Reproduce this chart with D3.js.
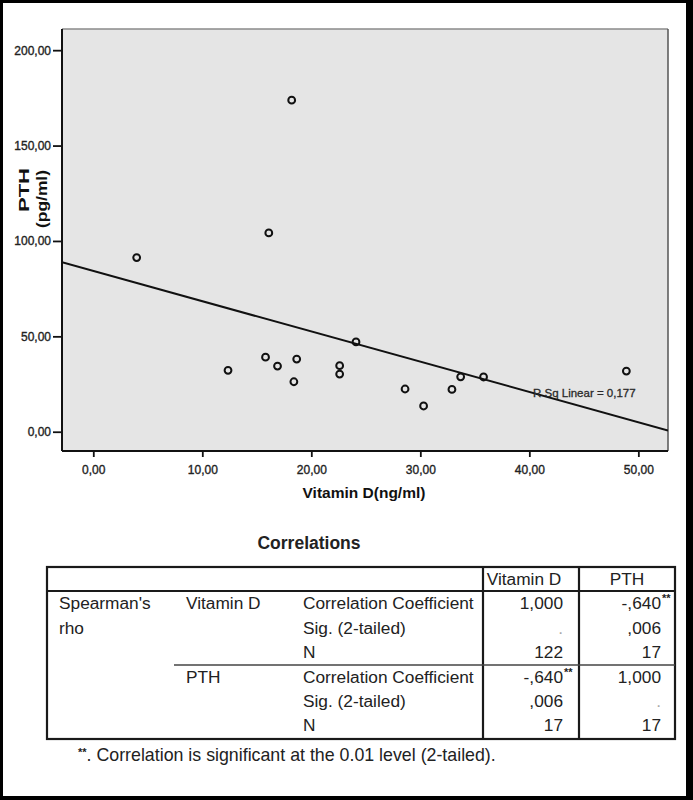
<!DOCTYPE html>
<html>
<head>
<meta charset="utf-8">
<script src="https://cdn.jsdelivr.net/npm/d3@7"></script>
<style>
  html, body { margin: 0; padding: 0; background: #fff; }
  svg { display: block; }
  text { font-family: "Liberation Sans", Arial, sans-serif; }
</style>
</head>
<body>
<svg id="chart" width="693" height="800"></svg>
<script>
// ---------- data ----------
const vitaminD = [3.98, 18.2, 16.1, 12.36, 15.8, 16.9, 18.66, 18.4, 22.6, 22.6, 24.1, 28.6, 30.3, 32.9, 33.7, 35.8, 48.9];
const pth      = [91.3, 173.8, 104.2, 32.2, 39.1, 34.4, 38.1, 26.2, 34.6, 30.2, 47.1, 22.4, 13.5, 22.2, 28.8, 28.7, 31.8];
const xTicks = [0, 10, 20, 30, 40, 50];
const yTicks = [0, 50, 100, 150, 200];
const xTitle = "Vitamin D(ng/ml)";
const yTitle = ["PTH", "(pg/ml)"];
const fitLabel = "R Sq Linear = 0,177";

const tableTitle = "Correlations";
const tableColumns = ["Vitamin D", "PTH"];
const tableMethod = ["Spearman's", "rho"];
const tableGroups = ["Vitamin D", "PTH"];
const tableStats = ["Correlation Coefficient", "Sig. (2-tailed)", "N"];
const colVitaminD = ["1,000", ".", "122", "-,640**", ",006", "17"];
const colPTH      = ["-,640**", ",006", "17", "1,000", ".", "17"];
const footnote = ["**", ". Correlation is significant at the 0.01 level (2-tailed)."];

// ---------- frame ----------
const svg = d3.select("#chart");
svg.append("rect").attr("x", 0).attr("y", 0).attr("width", 693).attr("height", 800).attr("fill", "#000");
svg.append("rect").attr("x", 3).attr("y", 3).attr("width", 683).attr("height", 793).attr("fill", "#fff");

// ---------- scatter ----------
const P = { left: 62, top: 29, right: 668, bottom: 451 };
const x = d3.scaleLinear().domain([-2.87, 52.72]).range([P.left, P.right]);
const y = d3.scaleLinear().domain([-10.1, 211.1]).range([P.bottom, P.top]);
const fmt = v => d3.format(".2f")(v).replace(".", ",");

svg.append("rect").attr("x", P.left).attr("y", P.top)
  .attr("width", P.right - P.left).attr("height", P.bottom - P.top)
  .attr("fill", "#e5e5e5");
svg.append("line").attr("x1", P.left).attr("x2", P.right).attr("y1", P.top).attr("y2", P.top)
  .attr("stroke", "#8a8a8a").attr("stroke-width", 1.5);
svg.append("line").attr("x1", P.right).attr("x2", P.right).attr("y1", P.top).attr("y2", P.bottom)
  .attr("stroke", "#555").attr("stroke-width", 1.5);

const clip = svg.append("clipPath").attr("id", "plotclip");
clip.append("rect").attr("x", P.left).attr("y", P.top).attr("width", P.right - P.left).attr("height", P.bottom - P.top);

// regression line (least squares)
const n = vitaminD.length;
const mx = d3.mean(vitaminD), my = d3.mean(pth);
let sxy = 0, sxx = 0;
for (let i = 0; i < n; i++) { sxy += (vitaminD[i] - mx) * (pth[i] - my); sxx += (vitaminD[i] - mx) ** 2; }
const slope = sxy / sxx, intercept = my - slope * mx;
const [x0, x1] = x.domain();
svg.append("line").attr("clip-path", "url(#plotclip)")
  .attr("x1", x(x0)).attr("y1", y(intercept + slope * x0))
  .attr("x2", x(x1)).attr("y2", y(intercept + slope * x1))
  .attr("stroke", "#111").attr("stroke-width", 2);

svg.append("text").attr("x", 533).attr("y", 397)
  .attr("font-size", 11.5).attr("fill", "#2a2a2a").attr("stroke", "#2a2a2a").attr("stroke-width", 0.3)
  .text(fitLabel);

// points
svg.append("g").selectAll("circle").data(vitaminD).join("circle")
  .attr("cx", d => x(d)).attr("cy", (d, i) => y(pth[i]))
  .attr("r", 3.4).attr("fill", "none").attr("stroke", "#111").attr("stroke-width", 2);

// axes
const yAxis = d3.axisLeft(y).tickValues(yTicks).tickSize(9).tickPadding(2).tickFormat(fmt);
const gy = svg.append("g").attr("transform", `translate(${P.left},0)`).call(yAxis);
gy.select(".domain").attr("stroke", "#111").attr("stroke-width", 2)
  .attr("d", `M0,${P.top}V${P.bottom}`);
gy.selectAll(".tick line").attr("stroke", "#111").attr("stroke-width", 1.8);
gy.selectAll(".tick text").attr("font-size", 12).attr("fill", "#222")
  .attr("stroke", "#222").attr("stroke-width", 0.35)
  .attr("font-family", "'Liberation Sans', Arial, sans-serif");

const xAxis = d3.axisBottom(x).tickValues(xTicks).tickSize(6).tickPadding(8).tickFormat(fmt);
const gx = svg.append("g").attr("transform", `translate(0,${P.bottom})`).call(xAxis);
gx.select(".domain").attr("stroke", "#111").attr("stroke-width", 2)
  .attr("d", `M${P.left},0H${P.right}`);
gx.selectAll(".tick line").attr("stroke", "#111").attr("stroke-width", 1.8);
gx.selectAll(".tick text").attr("font-size", 12).attr("fill", "#222")
  .attr("stroke", "#222").attr("stroke-width", 0.35)
  .attr("font-family", "'Liberation Sans', Arial, sans-serif");

svg.append("text").attr("x", 364).attr("y", 498).attr("text-anchor", "middle")
  .attr("font-size", 15.5).attr("font-weight", "bold").attr("fill", "#111").text(xTitle);

svg.append("text").attr("transform", "translate(29,190) rotate(-90)").attr("text-anchor", "middle")
  .attr("font-size", 14).attr("font-weight", "bold").attr("fill", "#111")
  .attr("textLength", 44).attr("lengthAdjust", "spacingAndGlyphs").text(yTitle[0]);
svg.append("text").attr("transform", "translate(47,199) rotate(-90)").attr("text-anchor", "middle")
  .attr("font-size", 14).attr("font-weight", "bold").attr("fill", "#111")
  .attr("textLength", 58).attr("lengthAdjust", "spacingAndGlyphs").text(yTitle[1]);

// ---------- table ----------
const T = { left: 47, right: 675, top: 567, headBottom: 591, bottom: 739, c1: 483, c2: 579 };
const fs = 17.3;
const ink = "#222";
svg.append("text").attr("x", 309).attr("y", 549).attr("text-anchor", "middle")
  .attr("font-size", 17.5).attr("font-weight", "bold").attr("fill", ink).text(tableTitle);

const tg = svg.append("g");
tg.append("rect").attr("x", T.left).attr("y", T.top).attr("width", T.right - T.left).attr("height", T.bottom - T.top)
  .attr("fill", "none").attr("stroke", "#1a1a1a").attr("stroke-width", 2.2);
tg.append("line").attr("x1", T.left).attr("x2", T.right).attr("y1", T.headBottom).attr("y2", T.headBottom)
  .attr("stroke", "#1a1a1a").attr("stroke-width", 2.2);
[T.c1, T.c2].forEach(cx => tg.append("line").attr("x1", cx).attr("x2", cx).attr("y1", T.top).attr("y2", T.bottom)
  .attr("stroke", "#1a1a1a").attr("stroke-width", 2.2));
tg.append("line").attr("x1", 174).attr("x2", T.right).attr("y1", 665).attr("y2", 665)
  .attr("stroke", "#444").attr("stroke-width", 1.6);

// header
tg.append("text").attr("x", 524).attr("y", 585).attr("text-anchor", "middle").attr("font-size", fs).attr("fill", ink).text(tableColumns[0]);
tg.append("text").attr("x", 627).attr("y", 585).attr("text-anchor", "middle").attr("font-size", fs).attr("fill", ink).text(tableColumns[1]);

const rowY = [609, 634, 658, 683, 707, 731];
tableMethod.forEach((t, i) => tg.append("text").attr("x", 59).attr("y", rowY[i]).attr("font-size", fs).attr("fill", ink).text(t));
tableGroups.forEach((t, i) => tg.append("text").attr("x", 186).attr("y", rowY[i * 3]).attr("font-size", fs).attr("fill", ink).text(t));
rowY.forEach((ry, i) => tg.append("text").attr("x", 303).attr("y", ry).attr("font-size", fs).attr("fill", ink)
  .text(tableStats[i % 3]));

function cell(val, xr, ry) {
  if (val === ".") {
    tg.append("text").attr("x", xr).attr("y", ry).attr("text-anchor", "end").attr("font-size", fs).attr("fill", "#aaa").text(".");
    return;
  }
  const star = val.endsWith("**");
  const main = star ? val.slice(0, -2) : val;
  tg.append("text").attr("x", xr).attr("y", ry).attr("text-anchor", "end").attr("font-size", fs).attr("fill", ink).text(main);
  if (star) {
    tg.append("text").attr("x", xr + 1).attr("y", ry - 7).attr("font-size", 11).attr("font-weight", "bold").attr("fill", ink).text("**");
  }
}
colVitaminD.forEach((v, i) => cell(v, 563, rowY[i]));
colPTH.forEach((v, i) => cell(v, 661, rowY[i]));

// footnote
const fn = svg.append("text").attr("x", 78).attr("y", 761).attr("font-size", 17.8).attr("fill", ink);
fn.append("tspan").attr("font-size", 11).attr("font-weight", "bold").attr("dy", -5).text(footnote[0]);
fn.append("tspan").attr("dy", 5).text(footnote[1]);
</script>
</body>
</html>
